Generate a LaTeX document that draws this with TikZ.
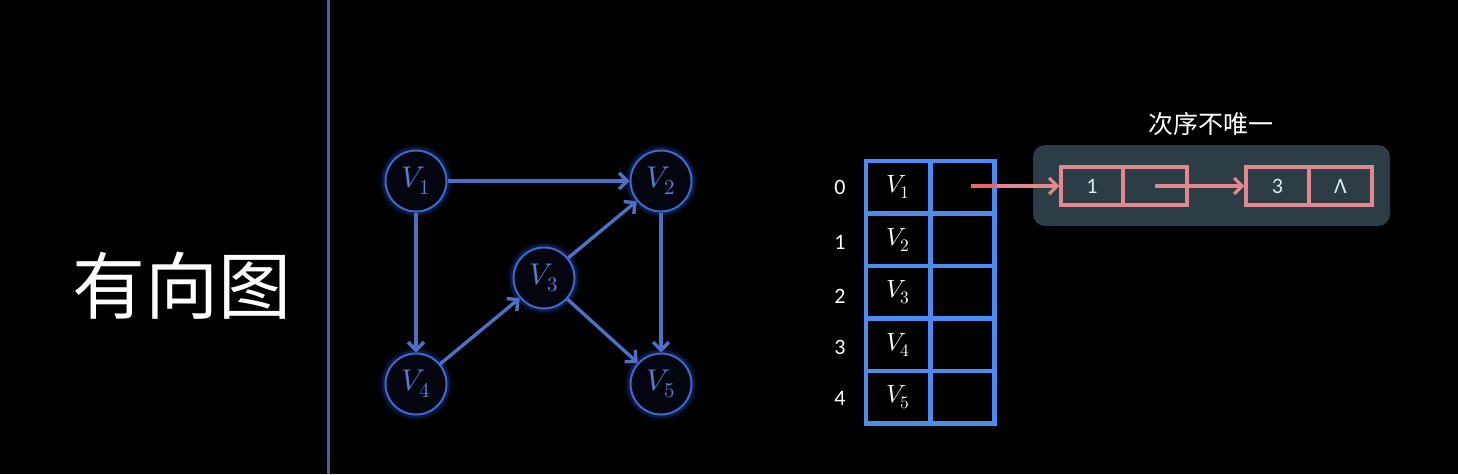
\documentclass[tikz,border=0pt]{standalone}
\usepackage{fontspec}
\usepackage{unicode-math}
\setmainfont{Carlito}
\setmathfont{Latin Modern Math}
\newfontfamily\cjk{Noto Sans CJK SC}
\usetikzlibrary{arrows.meta}
\definecolor{divline}{HTML}{4A5FA8}
\definecolor{gblue}{HTML}{4F6FC4}
\definecolor{gring}{HTML}{4068D0}
\definecolor{gglow}{HTML}{2F5AD8}
\definecolor{gfill}{HTML}{03060F}
\definecolor{gtext}{HTML}{5A7BD0}
\definecolor{tblue}{HTML}{4A8CF0}
\definecolor{lpink}{HTML}{E0888E}
\definecolor{lred}{HTML}{E8646A}
\definecolor{lbg}{HTML}{2C3D45}
\definecolor{ltext}{HTML}{DCEAF2}
\tikzset{
  x=1pt, y=-1pt,
  gnode/.style={circle, minimum size=61pt, inner sep=0pt, fill=gfill, draw=gring, line width=2pt,
    text=gtext, font=\fontsize{30}{32}\selectfont,
    preaction={draw=gglow, line width=12pt, draw opacity=0.1},
    preaction={draw=gglow, line width=7pt, draw opacity=0.22}},
  gedge/.style={draw=gblue, line width=3.4pt, -{Straight Barb[length=8pt,width=16pt]}},
  tcell/.style={rectangle, draw=tblue, line width=4.4pt, minimum width=64pt, minimum height=52.5pt,
    inner sep=0pt, text=white, font=\fontsize{25}{27}\selectfont},
  idx/.style={text=white, font=\fontsize{22}{24}\selectfont},
  lcell/.style={rectangle, draw=lpink, line width=3.2pt, minimum height=38pt, inner sep=0pt,
    text=ltext, font=\fontsize{22}{24}\selectfont},
  ledge/.style={draw=lpink, line width=3.2pt, -{Straight Barb[length=8pt,width=16pt]}},
}
\begin{document}
\begin{tikzpicture}
\fill[black] (0,0) rectangle (1458,474);
\useasboundingbox (0,0) rectangle (1458,474);
% divider
\draw[divline, line width=3pt] (328,0) -- (328,474);
% title
\node[text=white, font=\cjk\fontsize{73}{80}\selectfont] (title) at (182,286) {有向图};
% graph
\node[gnode] (v1) at (416,181) {$V_1$};
\node[gnode] (v2) at (661,181) {$V_2$};
\node[gnode] (v3) at (544,278) {$V_3$};
\node[gnode] (v4) at (416,384) {$V_4$};
\node[gnode] (v5) at (661,384) {$V_5$};
\draw[gedge] (v1) -- (v2);
\draw[gedge] (v1) -- (v4);
\draw[gedge] (v4) -- (v3);
\draw[gedge] (v3) -- (v2);
\draw[gedge] (v3) -- (v5);
\draw[gedge] (v2) -- (v5);
% table
\foreach \i/\n in {0/1,1/2,2/3,3/4,4/5}{
  \node[tcell] (ta\i) at (898,{187.25+52.5*\i}) {$V_\n$};
  \node[tcell] (tb\i) at (962.5,{187.25+52.5*\i}) {};
}
\node[idx] (i0) at (840,187) {0};
\node[idx] (i1) at (840,242) {1};
\node[idx] (i2) at (840,296) {2};
\node[idx] (i3) at (840,347) {3};
\node[idx] (i4) at (840,398) {4};
% linked list
\node[text=white, font=\cjk\fontsize{25}{28}\selectfont] (note) at (1211,124) {次序不唯一};
\node[rectangle, rounded corners=12pt, fill=lbg, minimum width=357pt, minimum height=81pt, inner sep=0pt] (lbox) at (1211.5,185.5) {};
\node[lcell, minimum width=62pt] (l1a) at (1092,186) {1};
\node[lcell, minimum width=64pt] (l1b) at (1155,186) {};
\node[lcell, minimum width=63pt] (l2a) at (1277.5,186) {3};
\node[lcell, minimum width=63pt] (l2b) at (1340.5,186) {Λ};
\path ([xshift=8pt]tb0.center) coordinate (p0a);
\coordinate (p0) at (p0a |- l1a.west);
\coordinate (p1) at (tb0.east |- l1a.west);
\draw[lred, line width=3.2pt] (p0) -- (p1);
\draw[ledge] (p1) -- (l1a.west);
\draw[ledge] (l1b.center) -- (l2a.west);
\end{tikzpicture}
\end{document}
